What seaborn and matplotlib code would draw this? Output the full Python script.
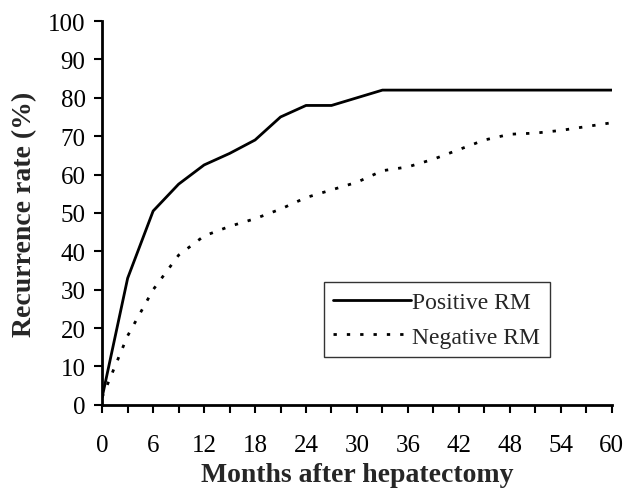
import pandas as pd
import matplotlib.pyplot as plt
import seaborn as sns

# Values (every 3 months)
months = [0, 3, 6, 9, 12, 15, 18, 21, 24, 27, 30, 33, 36, 39, 42, 45, 48, 51, 54, 57, 60]
positive_rm = [2, 33, 50.5, 57.5, 62.5, 65.5, 69, 75, 78, 78, 80, 82, 82, 82, 82, 82, 82, 82, 82, 82, 82]
negative_rm = [2, 18, 30, 39, 44, 46.5, 48.5, 51, 54, 56, 58, 61, 62, 64, 66.5, 69, 70.5, 70.8, 71.5, 72.5, 73.5]
groups = ['Positive RM', 'Negative RM']
x_ticks = list(range(0, 61, 6))
y_ticks = list(range(0, 101, 10))

df = pd.DataFrame({
    'month': months * 2,
    'rate': positive_rm + negative_rm,
    'group': [groups[0]] * len(months) + [groups[1]] * len(months),
})

sns.set_style('ticks')
plt.rcParams['font.family'] = ['Liberation Serif', 'DejaVu Serif']

fig = plt.figure(figsize=(6.23, 4.89), dpi=100)
ax = fig.add_axes([0.164, 0.17, 0.818, 0.785])

sns.lineplot(data=df, x='month', y='rate', style='group', style_order=groups,
             dashes={groups[0]: '', groups[1]: (1.2, 3.6)},
             color='black', linewidth=2, ax=ax)

ax.set_xlim(0, 60)
ax.set_ylim(0, 100)
ax.set_xticks(x_ticks)
ax.set_xticks(list(range(3, 60, 6)), minor=True)
ax.set_yticks(y_ticks)
ax.tick_params(axis='both', which='both', direction='out', length=6, width=1.5,
               labelsize=18, colors='black')
ax.tick_params(axis='x', pad=15)
ax.tick_params(axis='y', pad=6)
for side in ['top', 'right']:
    ax.spines[side].set_visible(False)
for side in ['left', 'bottom']:
    ax.spines[side].set_linewidth(2)
    ax.spines[side].set_color('black')

ax.set_xlabel('Months after hepatectomy', fontsize=20, fontweight='bold', labelpad=4)
ax.set_ylabel('Recurrence rate (%)', fontsize=20, fontweight='bold', labelpad=8)

leg = ax.legend(loc='upper left', bbox_to_anchor=(0.435, 0.32), fontsize=17,
                frameon=True, fancybox=False, edgecolor='black',
                handlelength=3.3, handletextpad=0.05, borderpad=0.4,
                labelspacing=0.55, borderaxespad=0)
leg.get_frame().set_linewidth(1)
leg.set_title(None)

fig.savefig('out.png', dpi=100, facecolor='white')
